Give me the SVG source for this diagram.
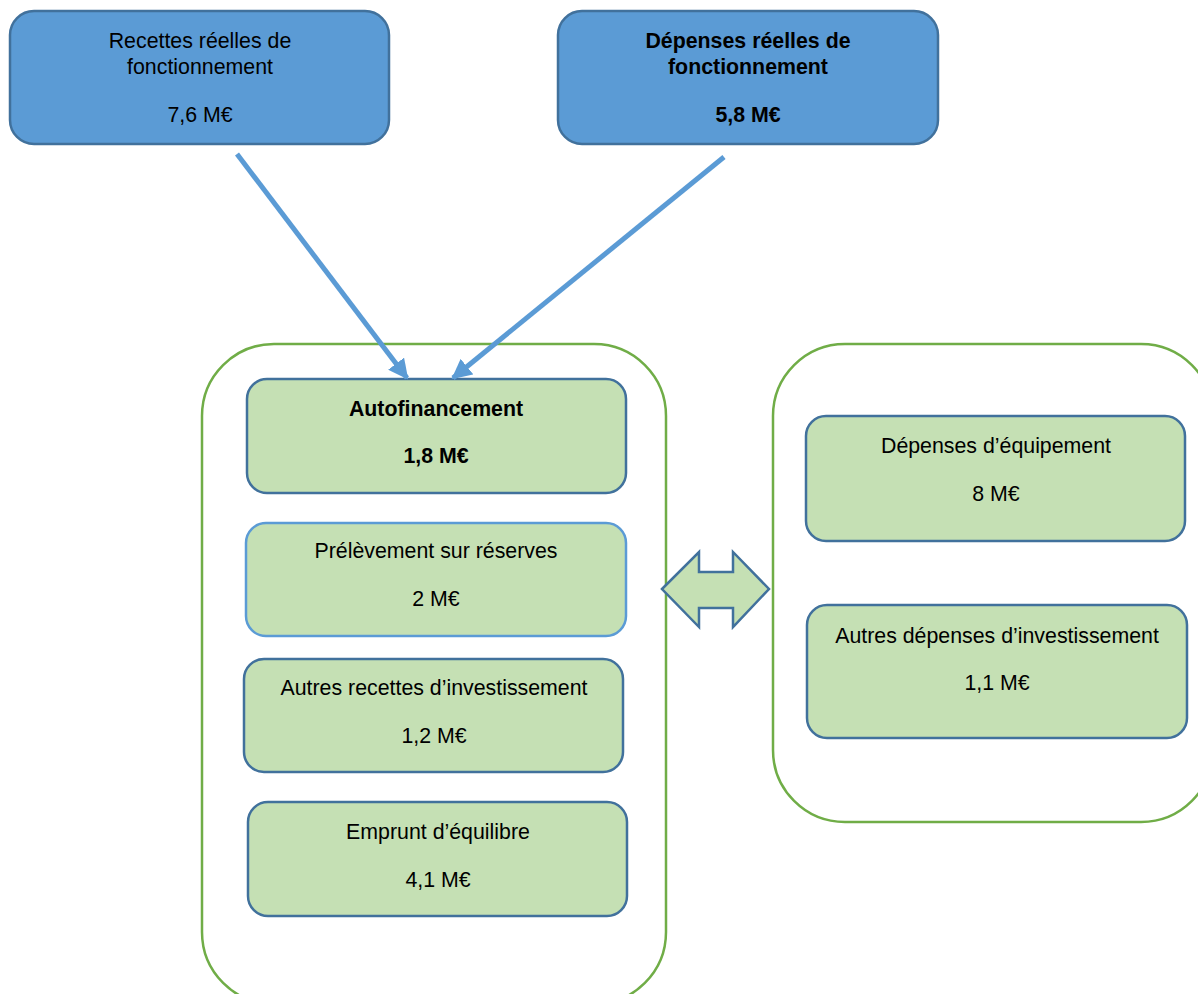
<svg xmlns="http://www.w3.org/2000/svg" width="1198" height="994" viewBox="0 0 1198 994">
<style>
text{font-family:"Liberation Sans",Arial,sans-serif;font-size:21.33px;fill:#000;text-anchor:middle}
.b{font-weight:bold}
.blue{fill:#5B9BD5;stroke:#41719C;stroke-width:2.5}
.green{fill:#C5E0B4;stroke:#41719C;stroke-width:2.5}
.green2{fill:#C5E0B4;stroke:#5B9BD5;stroke-width:2.5}
.cont{fill:none;stroke:#70AD47;stroke-width:2.5}
.conn{stroke:#5B9BD5;stroke-width:5;fill:none;marker-end:url(#ah)}
</style>
<defs>
<marker id="ah" viewBox="0 0 10 10" refX="9" refY="5" markerWidth="4" markerHeight="4" orient="auto" markerUnits="strokeWidth">
<path d="M0,0 L10,5 L0,10 Z" fill="#5B9BD5"/>
</marker>
</defs>
<g id="container-left"><rect class="cont" x="202" y="344" width="464" height="660" rx="72"/></g>
<g id="container-right"><rect class="cont" x="773" y="344" width="440" height="478" rx="72"/></g>
<g id="recettes">
<rect class="blue" x="10" y="11" width="379" height="133" rx="24"/>
<text x="200" y="48">Recettes réelles de</text>
<text x="200" y="74">fonctionnement</text>
<text x="200" y="122">7,6 M€</text>
</g>
<g id="depenses">
<rect class="blue" x="558" y="11" width="380" height="133" rx="24"/>
<text class="b" x="748" y="48">Dépenses réelles de</text>
<text class="b" x="748" y="74">fonctionnement</text>
<text class="b" x="748" y="122">5,8 M€</text>
</g>
<g id="autofinancement">
<rect class="green" x="247" y="379" width="379" height="114" rx="20"/>
<text class="b" x="436" y="416">Autofinancement</text>
<text class="b" x="436" y="463">1,8 M€</text>
</g>
<g id="prelevement">
<rect class="green2" x="246" y="523" width="380" height="113" rx="20"/>
<text x="436" y="558">Prélèvement sur réserves</text>
<text x="436" y="606">2 M€</text>
</g>
<g id="autres-recettes">
<rect class="green" x="244" y="659" width="379" height="113" rx="20"/>
<text x="434" y="695">Autres recettes d’investissement</text>
<text x="434" y="743">1,2 M€</text>
</g>
<g id="emprunt">
<rect class="green" x="248" y="802" width="379" height="114" rx="20"/>
<text x="438" y="839">Emprunt d’équilibre</text>
<text x="438" y="887">4,1 M€</text>
</g>
<g id="equipement">
<rect class="green" x="806" y="416" width="379" height="125" rx="20"/>
<text x="996" y="453">Dépenses d’équipement</text>
<text x="996" y="501">8 M€</text>
</g>
<g id="autres-depenses">
<rect class="green" x="807" y="605" width="380" height="133" rx="20"/>
<text x="997" y="643">Autres dépenses d’investissement</text>
<text x="997" y="690">1,1 M€</text>
</g>
<g id="double-arrow">
<path class="green" d="M662,589 L699,552 L699,572 L733,572 L733,552 L769,589 L733,627 L733,608 L699,608 L699,627 Z"/>
</g>
<g id="connectors">
<line class="conn" x1="237" y1="154" x2="407" y2="378"/>
<line class="conn" x1="724" y1="157" x2="453" y2="378"/>
</g>
</svg>
